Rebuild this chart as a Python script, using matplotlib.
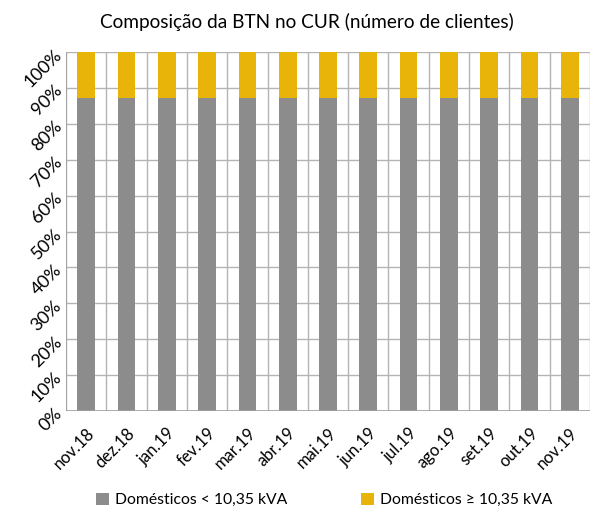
import matplotlib
matplotlib.use("Agg")
import matplotlib.pyplot as plt
import numpy as np

categories = ["nov.18", "dez.18", "jan.19", "fev.19", "mar.19", "abr.19", "mai.19",
              "jun.19", "jul.19", "ago.19", "set.19", "out.19", "nov.19"]
dom_lt = [87.2, 87.2, 87.2, 87.2, 87.2, 87.2, 87.2, 87.2, 87.2, 87.2, 87.2, 87.2, 87.2]
dom_ge = [12.8, 12.8, 12.8, 12.8, 12.8, 12.8, 12.8, 12.8, 12.8, 12.8, 12.8, 12.8, 12.8]
series_names = ["Domésticos < 10,35 kVA", "Domésticos ≥ 10,35 kVA"]
yticks = [0, 10, 20, 30, 40, 50, 60, 70, 80, 90, 100]

plt.rcParams['font.family'] = ['Lato', 'DejaVu Sans']

fig = plt.figure(figsize=(5.93, 5.14), dpi=100)
ax = fig.add_axes([66/593, 1-411/514, 524/593, 359/514])

x = np.arange(len(categories))
grey = "#8c8c8c"
yellow = "#e9b40a"
b1 = ax.bar(x, dom_lt, width=0.44, color=grey, label=series_names[0], zorder=3)
b2 = ax.bar(x, dom_ge, bottom=dom_lt, width=0.44, color=yellow, label=series_names[1], zorder=3)

ax.set_xlim(-0.5, len(categories) - 0.5)
ax.set_ylim(0, 100)
ax.set_yticks(yticks)
ax.set_yticklabels([f"{v}%" for v in yticks], rotation=45, fontsize=13,
                   rotation_mode='anchor', ha='right', va='center')
ax.set_xticks(x)
ax.set_xticklabels(categories, rotation=45, fontsize=12, ha='right', rotation_mode='anchor')
ax.tick_params(axis='y', length=0, pad=5)
ax.tick_params(axis='x', length=0, pad=10)

for v in yticks:
    ax.axhline(v, color="#b4b4b4", lw=1, zorder=1)
for b in np.arange(-0.5, len(categories) + 0.5, 1):
    ax.axvline(b, color="#b4b4b4", lw=1, zorder=1)

for s in ax.spines.values():
    s.set_visible(False)
ax.axhline(0, color="#a0a0a0", lw=1.2, zorder=4)
ax.axvline(-0.5, color="#a0a0a0", lw=1.2, zorder=4)

fig.text(0.518, 1-22/514, "Composição da BTN no CUR (número de clientes)", ha='center', va='center', fontsize=13.7)

fig.legend(handles=[b1, b2], labels=series_names, loc='center', bbox_to_anchor=(0.547, 1-500/514),
           ncol=2, frameon=False, fontsize=11.3, columnspacing=4.7, handlelength=0.8, handleheight=0.8,
           handletextpad=0.4)

fig.savefig("out.png", dpi=100)
